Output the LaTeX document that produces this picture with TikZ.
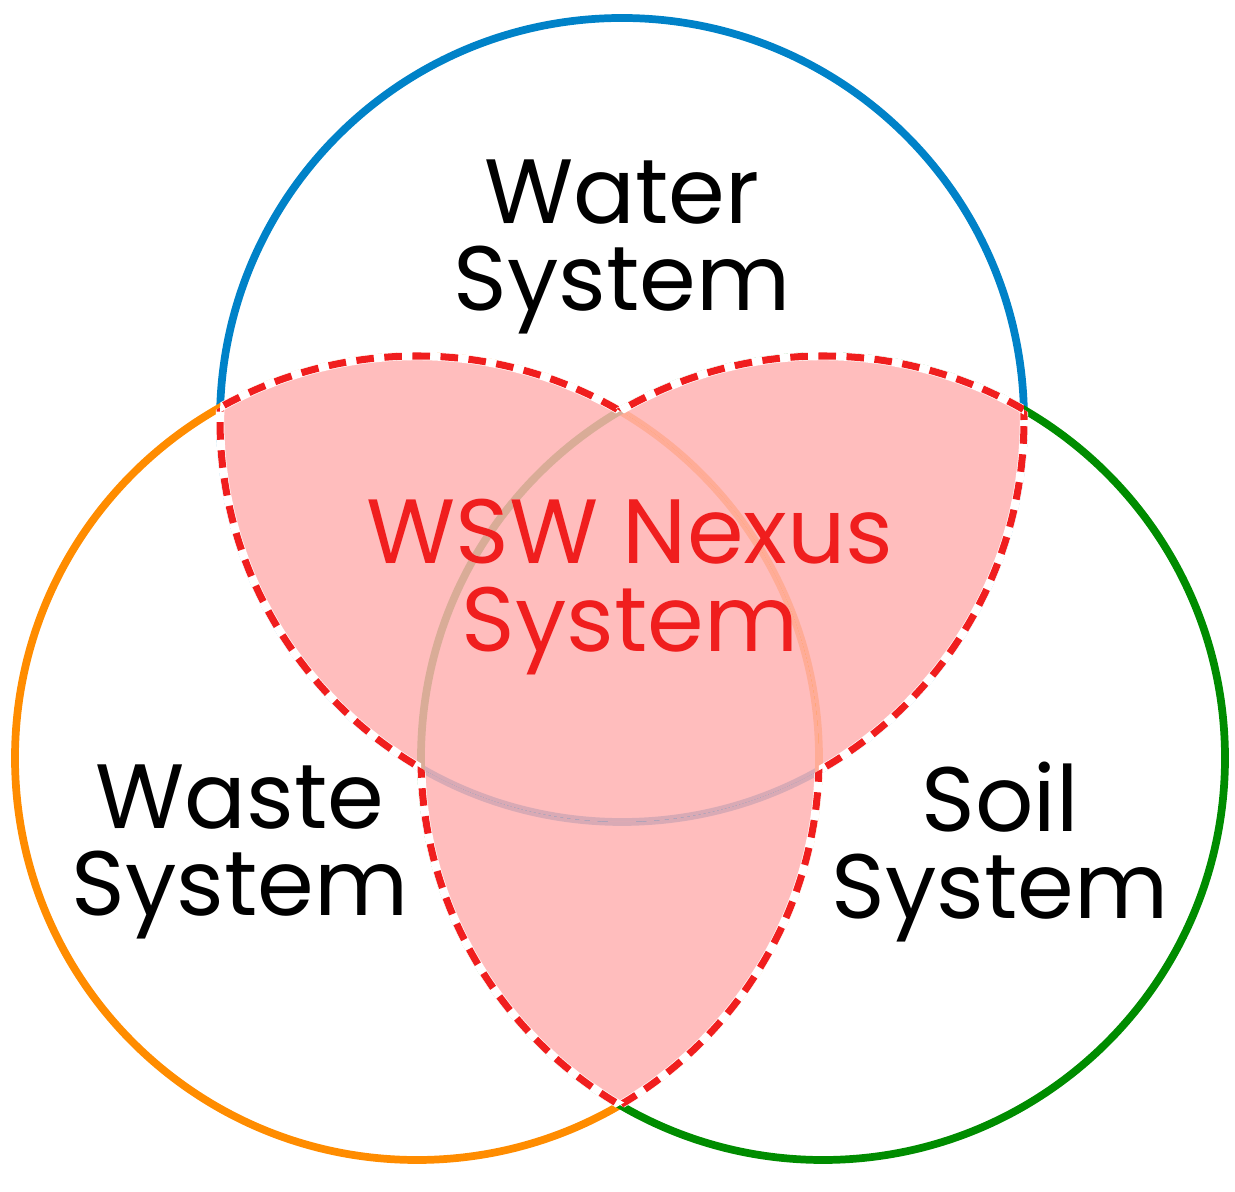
\documentclass[tikz,border=0pt]{standalone}
\usepackage{fontspec}
\setmainfont{Poppins}
\usepackage[outline]{contour}
\contourlength{1.5pt}
\definecolor{waterblue}{RGB}{0,130,200}
\definecolor{wasteorange}{RGB}{255,140,0}
\definecolor{soilgreen}{RGB}{0,140,0}
\definecolor{nexusred}{RGB}{240,30,30}
\tikzset{
  ring/.style={line width=2.2pt},
  label/.style={align=center, font=\fontsize{26}{25}\selectfont, inner sep=0pt},
  rim/.style={line width=2pt, nexusred, dash pattern=on 5pt off 3pt}
}
\begin{document}
\begin{tikzpicture}
  \useasboundingbox (0,0) rectangle (12.35,11.92);
  \coordinate (T) at (6.22,7.72);
  \coordinate (L) at (4.17,4.34);
  \coordinate (R) at (8.23,4.34);
  \def\rad{4.02}
  % the three systems
  \draw [ring, waterblue] (T) circle (\rad);
  \draw [ring, wasteorange] (L) circle (\rad);
  \draw [ring, soilgreen] (R) circle (\rad);
  % overlapping part
  \begin{scope}
    \clip (L) circle (\rad);
    \fill [red!30, opacity=0.85] (T) circle (\rad);
  \end{scope}
  \begin{scope}
    \clip (R) circle (\rad);
    \begin{scope}[even odd rule]
      \clip (L) circle (\rad) (-1,-1) rectangle (14,13);
      \fill [red!30, opacity=0.85] (T) circle (\rad);
    \end{scope}
  \end{scope}
  \begin{scope}
    \clip (R) circle (\rad);
    \begin{scope}[even odd rule]
      \clip (T) circle (\rad) (-1,-1) rectangle (14,13);
      \fill [red!30, opacity=0.85] (L) circle (\rad);
    \end{scope}
  \end{scope}
  % dashed rim of the nexus
  \begin{scope}[even odd rule]
    \clip (L) circle (\rad) (R) circle (\rad);
    \draw [line width=2.4pt, white] (T) circle (\rad);
    \draw [rim] (T) circle (\rad);
  \end{scope}
  \begin{scope}[even odd rule]
    \clip (T) circle (\rad) (R) circle (\rad);
    \draw [line width=2.4pt, white] (L) circle (\rad);
    \draw [rim] (L) circle (\rad);
  \end{scope}
  \begin{scope}[even odd rule]
    \clip (T) circle (\rad) (L) circle (\rad);
    \draw [line width=2.4pt, white] (R) circle (\rad);
    \draw [rim] (R) circle (\rad);
  \end{scope}
  % labels
  \node [label] (water) at (6.22,9.45) {Water\\System};
  \node [label] (waste) at (2.4,3.4) {Waste\\System};
  \node [label] (soil) at (10.0,3.4) {Soil\\System};
  \node [label, text=nexusred] (nexus) at (6.3,6.05) {\contour{white}{WSW Nexus}\\\contour{white}{System}};
\end{tikzpicture}
\end{document}
